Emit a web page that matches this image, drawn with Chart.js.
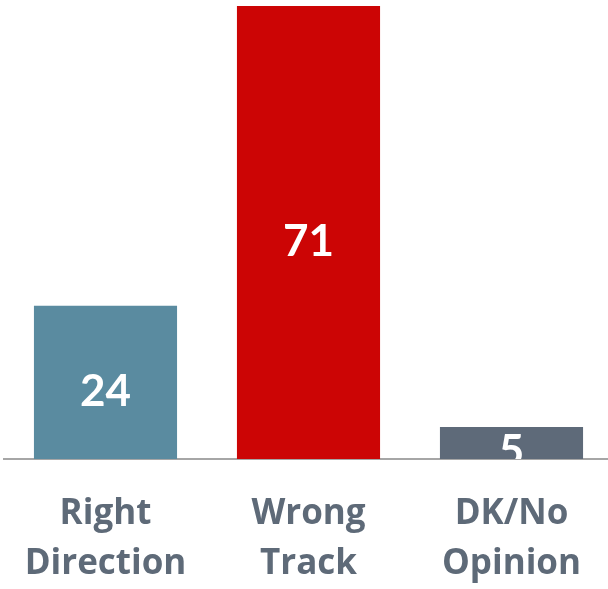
<!DOCTYPE html>
<html>
<head>
<meta charset="utf-8">
<script src="https://cdn.jsdelivr.net/npm/chart.js@4/dist/chart.umd.min.js"></script>
<style>
  html, body { margin: 0; padding: 0; background: #ffffff; overflow: hidden; }
  #wrap { position: relative; width: 613px; height: 589px; }
</style>
</head>
<body>
<div id="wrap"><canvas id="directionChart"></canvas></div>
<script>
// Right direction / wrong track poll
const categories = [['Right', 'Direction'], ['Wrong', 'Track'], ['DK/No', 'Opinion']];
const values = [24, 71, 5];
const barColors = ['#5A8BA0', '#CC0505', '#5E6A79'];

// white value labels in the middle of each bar, clipped to the plot area
const barLabels = {
    id: 'barLabels',
    afterDatasetsDraw(chart) {
        const ctx = chart.ctx;
        const area = chart.chartArea;
        const meta = chart.getDatasetMeta(0);
        ctx.save();
        ctx.beginPath();
        ctx.rect(area.left, area.top, area.right - area.left, area.bottom - area.top);
        ctx.clip();
        ctx.fillStyle = '#ffffff';
        ctx.font = 'bold 44px Lato';
        ctx.textAlign = 'center';
        ctx.textBaseline = 'middle';
        meta.data.forEach((bar, i) => {
            const mid = (bar.y + bar.base) / 2;
            ctx.fillText(String(values[i]), bar.x, mid + 9);
        });
        ctx.restore();
    }
};

new Chart(document.getElementById('directionChart'), {
    type: 'bar',
    data: {
        labels: categories,
        datasets: [{
            data: values,
            backgroundColor: barColors,
            borderWidth: 0,
            barPercentage: 0.705,
            categoryPercentage: 1
        }]
    },
    options: {
        responsive: true,
        maintainAspectRatio: false,
        animation: false,
        layout: { padding: { top: 6, left: 4, right: 0, bottom: 0 } },
        plugins: {
            legend: { display: false },
            tooltip: { enabled: false }
        },
        scales: {
            x: {
                grid: { display: false, drawTicks: false },
                border: { display: true, color: '#A6A6A6', width: 2 },
                ticks: {
                    color: '#5E6A78',
                    padding: 30,
                    maxRotation: 0,
                    font: { family: 'Open Sans', size: 35, weight: 'bold', lineHeight: 1.43 }
                },
                afterFit(scale) {
                    scale.height = 130;
                    scale.paddingLeft = 0;
                    scale.paddingRight = 0;
                }
            },
            y: {
                display: false,
                min: 0,
                max: 71
            }
        }
    },
    plugins: [barLabels]
});
</script>
</body>
</html>
